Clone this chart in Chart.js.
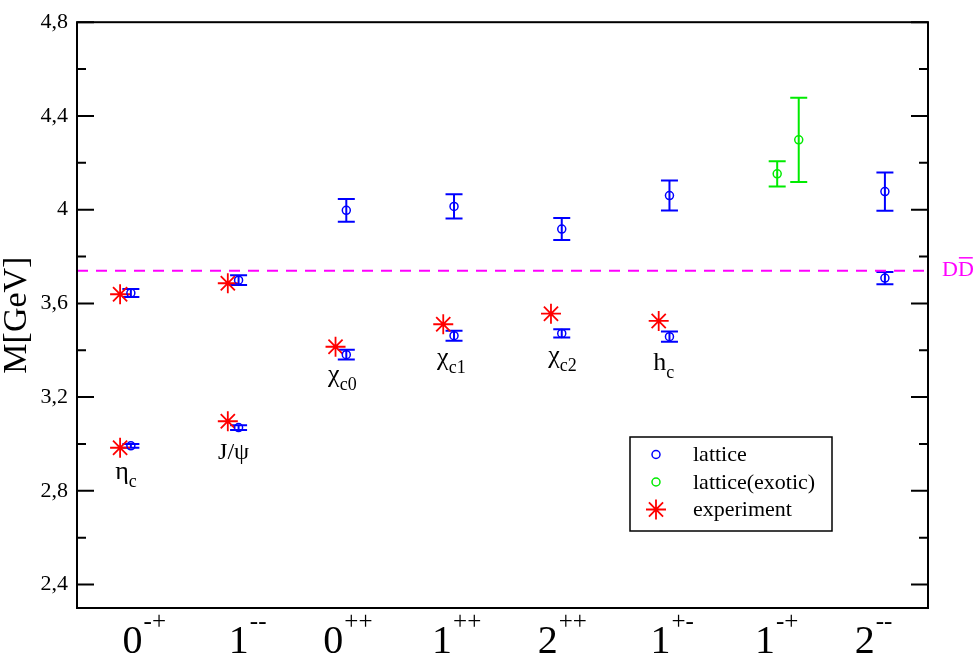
<!DOCTYPE html>
<html>
<head>
<meta charset="utf-8">
<script src="https://cdn.jsdelivr.net/npm/chart.js@4.4.0/dist/chart.umd.min.js"></script>
<style>
  html, body { margin: 0; padding: 0; background: #fff; }
</style>
</head>
<body>
<canvas id="massChart" width="977" height="656"></canvas>
<script>
// J^PC channels along the x axis
const labelBase = ["0", "1", "0", "1", "2", "1", "1", "2"];
const labelSup = ["-+", "--", "++", "++", "++", "+-", "-+", "--"];
const labelAt = [1.22, 2.18, 3.11, 4.12, 5.10, 6.12, 7.09, 7.99];

// lattice results (ground + excited state per channel)
const latticeX = [1.1, 1.1, 2.1, 2.1, 3.1, 3.1, 4.1, 4.1, 5.1, 5.1, 6.1, 6.1, 8.1, 8.1];
const latticeY = [2.992, 3.644, 3.070, 3.699, 3.381, 3.997, 3.462, 4.014, 3.472, 3.917, 3.458, 4.060, 3.708, 4.077];
const latticeErr = [0.008, 0.017, 0.010, 0.021, 0.021, 0.049, 0.021, 0.052, 0.018, 0.047, 0.022, 0.064, 0.026, 0.082];

// exotic 1-+ channel
const exoticX = [7.1, 7.3];
const exoticY = [4.153, 4.298];
const exoticErr = [0.054, 0.180];

// experimental masses
const expX = [1, 1, 2, 2, 3, 4, 5, 6];
const expY = [2.984, 3.639, 3.097, 3.686, 3.415, 3.511, 3.556, 3.525];

// D Dbar threshold
const ddThreshold = 3.739;

const yTicks = [2.4, 2.8, 3.2, 3.6, 4, 4.4, 4.8];
const yMinorTicks = [2.6, 3.0, 3.4, 3.8, 4.2, 4.6];

// state names written next to the points (world coords of baseline start)
const stateMain = ["η", "J/ψ", "χ", "χ", "χ", "h"];
const stateSub = ["c", "", "c0", "c1", "c2", "c"];
const stateX = [0.954, 1.910, 2.931, 3.943, 4.974, 5.949];
const stateY = [2.852, 2.936, 3.263, 3.335, 3.347, 3.314];

const FONT = "'Liberation Serif', 'DejaVu Serif', serif";
const BLUE = "rgb(0,0,255)";
const GREEN = "rgb(0,235,0)";
const RED = "rgb(255,0,0)";
const MAGENTA = "rgb(255,0,255)";

function toPoints(xs, ys) {
  return xs.map((x, i) => ({ x: x, y: ys[i] }));
}

function drawErrorBars(chart, xs, ys, errs, colour) {
  const ctx = chart.ctx;
  const sx = chart.scales.x;
  const sy = chart.scales.y;
  const cap = 8.5;
  ctx.save();
  ctx.strokeStyle = colour;
  ctx.lineWidth = 2;
  xs.forEach((x, i) => {
    const px = sx.getPixelForValue(x);
    const top = sy.getPixelForValue(ys[i] + errs[i]);
    const bot = sy.getPixelForValue(ys[i] - errs[i]);
    ctx.beginPath();
    ctx.moveTo(px, top);
    ctx.lineTo(px, bot);
    ctx.moveTo(px - cap, top);
    ctx.lineTo(px + cap, top);
    ctx.moveTo(px - cap, bot);
    ctx.lineTo(px + cap, bot);
    ctx.stroke();
  });
  ctx.restore();
}

function drawStar(ctx, x, y, r) {
  ctx.beginPath();
  for (let k = 0; k < 4; k++) {
    const a = k * Math.PI / 4;
    ctx.moveTo(x - Math.cos(a) * r, y - Math.sin(a) * r);
    ctx.lineTo(x + Math.cos(a) * r, y + Math.sin(a) * r);
  }
  ctx.stroke();
}

const decorPlugin = {
  id: "decor",
  beforeDatasetsDraw(chart) {
    drawErrorBars(chart, latticeX, latticeY, latticeErr, BLUE);
    drawErrorBars(chart, exoticX, exoticY, exoticErr, GREEN);
  },
  afterDraw(chart) {
    const ctx = chart.ctx;
    const a = chart.chartArea;
    const sx = chart.scales.x;
    const sy = chart.scales.y;
    ctx.save();

    // frame
    ctx.strokeStyle = "#000";
    ctx.lineWidth = 2;
    ctx.strokeRect(a.left, a.top, a.right - a.left, a.bottom - a.top);

    // inward ticks on both vertical sides
    const tickSet = [[yTicks, 17], [yMinorTicks, 9]];
    tickSet.forEach(([vals, len]) => {
      vals.forEach((v) => {
        const py = sy.getPixelForValue(v);
        ctx.beginPath();
        ctx.moveTo(a.left, py);
        ctx.lineTo(a.left + len, py);
        ctx.moveTo(a.right, py);
        ctx.lineTo(a.right - len, py);
        ctx.stroke();
      });
    });

    // x tick labels with superscripts
    ctx.fillStyle = "#000";
    ctx.textBaseline = "alphabetic";
    ctx.textAlign = "left";
    labelBase.forEach((b, i) => {
      ctx.font = "40px " + FONT;
      const wb = ctx.measureText(b).width;
      ctx.font = "25px " + FONT;
      const ws = ctx.measureText(labelSup[i]).width;
      const cx = sx.getPixelForValue(labelAt[i]);
      const x0 = cx - (wb + ws) / 2;
      ctx.font = "40px " + FONT;
      ctx.fillText(b, x0, 653);
      ctx.font = "25px " + FONT;
      ctx.fillText(labelSup[i], x0 + wb + 1, 629);
    });

    // state names
    stateMain.forEach((m, i) => {
      const px = sx.getPixelForValue(stateX[i]);
      const py = sy.getPixelForValue(stateY[i]);
      ctx.font = (stateSub[i] ? "26px " : "24px ") + FONT;
      ctx.fillText(m, px, py);
      const w = ctx.measureText(m).width;
      if (stateSub[i]) {
        ctx.font = "18px " + FONT;
        ctx.fillText(stateSub[i], px + w, py + 8);
      }
    });

    // D Dbar label
    const ddY = sy.getPixelForValue(ddThreshold) + 5;
    ctx.fillStyle = MAGENTA;
    ctx.strokeStyle = MAGENTA;
    ctx.font = "22px " + FONT;
    const dW = ctx.measureText("D").width;
    const lx = a.right + 14;
    ctx.fillText("D", lx, ddY);
    ctx.fillText("D", lx + dW, ddY);
    ctx.lineWidth = 1.5;
    ctx.beginPath();
    ctx.moveTo(lx + dW + 1, ddY - 18);
    ctx.lineTo(lx + 2 * dW - 1, ddY - 18);
    ctx.stroke();

    // legend
    const bx = 630, by = 437, bw = 202, bh = 94;
    ctx.fillStyle = "#fff";
    ctx.fillRect(bx, by, bw, bh);
    ctx.strokeStyle = "#000";
    ctx.lineWidth = 1.5;
    ctx.strokeRect(bx, by, bw, bh);
    const entries = [
      ["lattice", BLUE, "circle"],
      ["lattice(exotic)", GREEN, "circle"],
      ["experiment", RED, "star"],
    ];
    entries.forEach(([text, col, style], i) => {
      const ey = by + 17.5 + i * 27.5;
      ctx.strokeStyle = col;
      ctx.lineWidth = style === "star" ? 1.8 : 1.5;
      if (style === "circle") {
        ctx.beginPath();
        ctx.arc(bx + 26, ey, 4, 0, 2 * Math.PI);
        ctx.stroke();
      } else {
        drawStar(ctx, bx + 26, ey, 10);
      }
      ctx.fillStyle = "#000";
      ctx.font = "22px " + FONT;
      ctx.textBaseline = "middle";
      ctx.fillText(text, bx + 63, ey + 1);
      ctx.textBaseline = "alphabetic";
    });

    ctx.restore();
  },
};

const ctx = document.getElementById("massChart");
new Chart(ctx, {
  type: "scatter",
  data: {
    datasets: [
      {
        type: "line",
        data: [{ x: 0.6, y: ddThreshold }, { x: 8.5, y: ddThreshold }],
        borderColor: MAGENTA,
        borderWidth: 2,
        borderDash: [11, 8],
        pointRadius: 0,
        fill: false,
      },
      {
        data: toPoints(latticeX, latticeY),
        pointStyle: "circle",
        pointRadius: 4,
        borderWidth: 1.5,
        borderColor: BLUE,
        backgroundColor: "rgba(0,0,0,0)",
      },
      {
        data: toPoints(exoticX, exoticY),
        pointStyle: "circle",
        pointRadius: 4,
        borderWidth: 1.5,
        borderColor: GREEN,
        backgroundColor: "rgba(0,0,0,0)",
      },
      {
        data: toPoints(expX, expY),
        pointStyle: "star",
        pointRadius: 10,
        borderWidth: 1.8,
        borderColor: RED,
        backgroundColor: RED,
      },
    ],
  },
  options: {
    responsive: false,
    animation: false,
    events: [],
    layout: { padding: { left: 0, top: 12, right: 49, bottom: 0 } },
    plugins: {
      legend: false,
      tooltip: { enabled: false },
    },
    scales: {
      x: {
        type: "linear",
        min: 0.6,
        max: 8.5,
        grid: { display: false },
        border: { display: false },
        ticks: { display: false },
        afterFit: (scale) => { scale.height = 48; },
      },
      y: {
        type: "linear",
        min: 2.3,
        max: 4.8,
        grid: { display: false, drawTicks: false },
        border: { display: false },
        afterBuildTicks: (scale) => {
          scale.ticks = yTicks.map((v) => ({ value: v }));
        },
        ticks: {
          color: "#000",
          padding: 9,
          font: { family: FONT, size: 22 },
          callback: (v) => String(v).replace(".", ","),
        },
        title: {
          display: true,
          text: "M[GeV]",
          color: "#000",
          padding: 0,
          font: { family: FONT, size: 34, lineHeight: 1.0 },
        },
        afterFit: (scale) => { scale.width = 77; },
      },
    },
  },
  plugins: [decorPlugin],
});
</script>
</body>
</html>
